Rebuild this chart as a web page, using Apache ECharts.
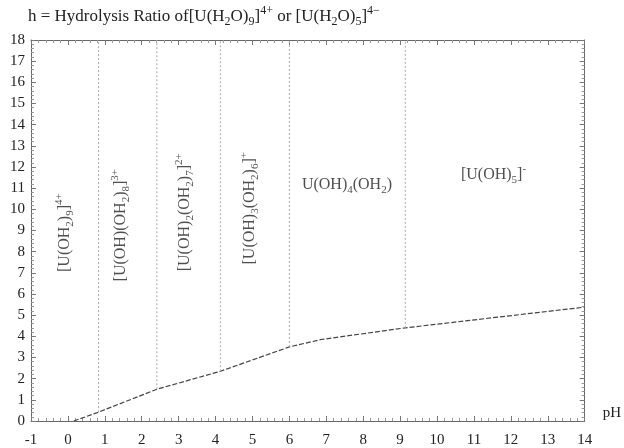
<!DOCTYPE html>
<html>
<head>
<meta charset="utf-8">
<script src="https://cdn.jsdelivr.net/npm/echarts@6/dist/echarts.min.js"></script>
<style>html,body{margin:0;padding:0;background:#fff}#c{width:624px;height:448px}</style>
</head>
<body>
<div id="c"></div>
<script>
// ---- data ----
var xTicks = [-1, 14];
var yTicks = [0, 18];
var curvePH = [0.16, 0.83, 2.41, 4.13, 6.0, 6.86, 9.14, 14];
var curveH  = [0.0, 0.42, 1.5, 2.35, 3.5, 3.85, 4.4, 5.38];
var boundaryPH = [0.83, 2.41, 4.13, 6.0, 9.14];
var boundaryH  = [0.42, 1.5, 2.35, 3.5, 4.4];
var regionPH = [-0.08, 1.42, 3.16, 4.93, 7.56, 11.53];
var regionH  = [8.9, 9.25, 9.86, 10.05, 11.18, 11.65];
var regionRotate = [90, 90, 90, 90, 0, 0];
var regionText = [
  '{b|[U(OH}{s|2}{b|)}{s|9}{b|]}{p|4+}',
  '{b|[U(OH)(OH}{s|2}{b|)}{s|8}{b|]}{p|3+}',
  '{b|[U(OH)}{s|2}{b|(OH}{s|2}{b|)}{s|7}{b|]}{p|2+}',
  '{b|[U(OH)}{s|3}{b|(OH}{s|2}{b|)}{s|6}{b|]}{p|+}',
  '{b|U(OH)}{s|4}{b|(OH}{s|2}{b|)}',
  '{b|[U(OH)}{s|5}{b|]}{p|-}'
];
var titleText = '{b|h = Hydrolysis Ratio of[U(H}{s|2}{b|O)}{s|9}{b|]}{p|4+}{b| or [U(H}{s|2}{b|O)}{s|5}{b|]}{p|4\u2212}';

var FONT = '"Liberation Serif","DejaVu Serif",serif';
function rich(size){
  return {
    b:{fontFamily:FONT,fontSize:size,color:'#222',lineHeight:size+6,verticalAlign:'middle'},
    s:{fontFamily:FONT,fontSize:Math.round(size*0.68),color:'#222',lineHeight:Math.round(size*0.7),verticalAlign:'bottom'},
    p:{fontFamily:FONT,fontSize:Math.round(size*0.68),color:'#222',lineHeight:Math.round(size*0.7),verticalAlign:'top'}
  };
}

var series = [];
series.push({
  type:'line', xAxisIndex:0, yAxisIndex:0, showSymbol:false, silent:true,
  data: curvePH.map(function(x,i){return [x, curveH[i]];}),
  lineStyle:{color:'#444', width:1.2, type:[5,2]}
});
boundaryPH.forEach(function(x,i){
  series.push({
    type:'line', xAxisIndex:0, yAxisIndex:0, showSymbol:false, silent:true,
    data:[[x, boundaryH[i]],[x, yTicks[1]]],
    lineStyle:{color:'#aaa', width:1, type:[2,2]}
  });
});
series.push({
  type:'scatter', xAxisIndex:0, yAxisIndex:0, symbolSize:0, silent:true,
  data: regionPH.map(function(x,i){
    return {value:[x, regionH[i]], label:{rotate:regionRotate[i]}};
  }),
  label:{show:true, position:'inside', formatter:function(p){return regionText[p.dataIndex];}, rich:rich(16)}
});

var axisLineStyle = {color:'#666', width:1};
var chart = echarts.init(document.getElementById('c'), null, {renderer:'canvas'});
chart.setOption({
  backgroundColor:'#fff',
  animation:false,
  title:{text:titleText, left:23, top:0, textStyle:{fontFamily:FONT, fontSize:17, fontWeight:'normal', color:'#222', rich:rich(17)}},
  grid:{left:31, right:35, top:40, bottom:26},
  xAxis:[{
    type:'value', position:'bottom', min:xTicks[0], max:xTicks[1], interval:1,
    axisLine:{show:true, onZero:false, lineStyle:axisLineStyle},
    axisTick:{show:true, inside:true, length:5, lineStyle:{color:'#777'}},
    minorTick:{show:true, splitNumber:5, length:3, lineStyle:{color:'#999'}},
    axisLabel:{fontFamily:FONT, fontSize:15, color:'#222', margin:12},
    splitLine:{show:false},
    name:'pH', nameLocation:'end', nameGap:18,
    nameTextStyle:{fontFamily:FONT, fontSize:15, color:'#222', verticalAlign:'bottom', padding:[0,0,0,0]}
  },{
    type:'value', position:'top', min:xTicks[0], max:xTicks[1], interval:1,
    axisLine:{show:true, onZero:false, lineStyle:axisLineStyle},
    axisTick:{show:true, inside:true, length:5, lineStyle:{color:'#777'}},
    minorTick:{show:true, splitNumber:5, length:3, lineStyle:{color:'#999'}},
    axisLabel:{show:false}, splitLine:{show:false}
  }],
  yAxis:[{
    type:'value', position:'left', min:yTicks[0], max:yTicks[1], interval:1,
    axisLine:{show:true, onZero:false, lineStyle:axisLineStyle},
    axisTick:{show:true, inside:true, length:5, lineStyle:{color:'#777'}},
    minorTick:{show:true, splitNumber:5, length:3, lineStyle:{color:'#999'}},
    axisLabel:{fontFamily:FONT, fontSize:15, color:'#222', margin:6},
    splitLine:{show:false}
  },{
    type:'value', position:'right', min:yTicks[0], max:yTicks[1], interval:1,
    axisLine:{show:true, onZero:false, lineStyle:axisLineStyle},
    axisTick:{show:true, inside:true, length:5, lineStyle:{color:'#777'}},
    minorTick:{show:true, splitNumber:5, length:3, lineStyle:{color:'#999'}},
    axisLabel:{show:false}, splitLine:{show:false}
  }],
  series:series
});
</script>
</body>
</html>
